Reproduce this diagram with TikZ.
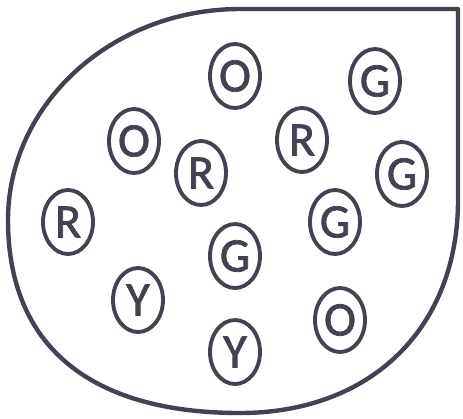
\documentclass[tikz,border=0pt]{standalone}
\usepackage{fontspec}
\setmainfont{Carlito}
\newfontfamily\beadfont[FakeBold=1.6]{Carlito}
\definecolor{inkgray}{RGB}{70,65,82}
\usetikzlibrary{shapes.geometric}
\tikzset{
	bead/.style={ellipse, draw=inkgray, line width=2.9pt, minimum width=37.5pt, minimum height=48pt, inner sep=0pt, text=inkgray, font=\beadfont\fontsize{36}{40}\selectfont},
	bag/.style={draw=inkgray, line width=3.3pt, line join=round},
}
\begin{document}
\begin{tikzpicture}[x=0.75pt, y=-0.75pt]
		\useasboundingbox (0,0) rectangle (463,418);
		% bag outline
		\coordinate (bagtop) at (240,9);
		\coordinate (bagcorner) at (458,9);
		\coordinate (bagright) at (458,200);
		\coordinate (bagbottom) at (240,413);
		\coordinate (bagleft) at (8,220);
		\draw[bag] (bagcorner) -- (bagright)
			.. controls (458,328) and (371,413) .. (bagbottom)
			.. controls (89,413) and (8,345) .. (bagleft)
			.. controls (8,104) and (112,9) .. (bagtop) -- cycle;
		% beads
		\node[bead] (otop) at (235,76) {O};
		\node[bead] (gtop) at (375,81) {G};
		\node[bead] (oleft) at (134,141) {O};
		\node[bead] (rmid) at (201,173) {R};
		\node[bead] (rright) at (302,140) {R};
		\node[bead] (gright) at (402,174) {G};
		\node[bead] (rleft) at (68,222) {R};
		\node[bead] (gmid) at (335,222) {G};
		\node[bead] (gcenter) at (235,256) {G};
		\node[bead] (yleft) at (138,300) {Y};
		\node[bead] (obottom) at (340,320) {O};
		\node[bead] (ybottom) at (235,352) {Y};
	\end{tikzpicture}
\end{document}
